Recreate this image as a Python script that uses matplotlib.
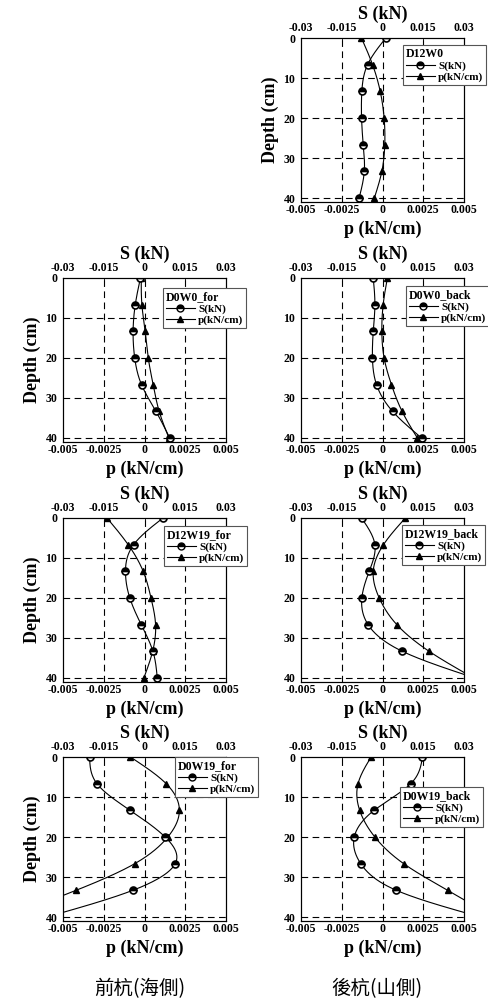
import numpy as np
import matplotlib
matplotlib.use("Agg")
import matplotlib.pyplot as plt

plt.rcParams['font.family'] = ['Liberation Serif', 'DejaVu Serif']
plt.rcParams['font.weight'] = 'bold'
plt.rcParams['axes.labelweight'] = 'bold'

# depth of the gauges (cm)
depth = [0, 6.67, 13.33, 20, 26.67, 33.33, 40]

# panel names
names = ['D12W0', 'D0W0_for', 'D0W0_back', 'D12W19_for', 'D12W19_back',
         'D0W19_for', 'D0W19_back']

# S (kN)
S_D12W0 = [0.0012, -0.0055, -0.0076, -0.0077, -0.0071, -0.0067, -0.0086]
S_D0W0_for = [-0.0015, -0.0034, -0.0042, -0.0036, -0.0011, 0.0042, 0.0093]
S_D0W0_back = [-0.0034, -0.0028, -0.0034, -0.0037, -0.0022, 0.0037, 0.0144]
S_D12W19_for = [0.0068, -0.0040, -0.0070, -0.0054, -0.0012, 0.0031, 0.0047]
S_D12W19_back = [-0.0077, -0.0028, -0.0049, -0.0076, -0.0053, 0.0073, 0.034]
S_D0W19_for = [-0.0202, -0.0175, -0.0053, 0.0076, 0.0113, -0.0043, -0.036]
S_D0W19_back = [0.0147, 0.0104, -0.0031, -0.0104, -0.0080, 0.0051, 0.036]

# p (kN/cm)
p_D12W0 = [-0.00129, -0.00061, -0.00014, 0.0001, 0.00014, -0.00004, -0.0005]
p_D0W0_for = [-0.0002, -0.00016, 0.00004, 0.00023, 0.00053, 0.0009, 0.0015]
p_D0W0_back = [0.0003, 0.00004, -0.00004, 0.0001, 0.00055, 0.0012, 0.00214]
p_D12W19_for = [-0.0023, -0.0010, -0.00008, 0.0004, 0.00068, 0.0005, -0.00004]
p_D12W19_back = [0.0014, 0.00006, -0.00057, -0.0002, 0.00088, 0.00286, 0.0056]
p_D0W19_for = [-0.00086, 0.00133, 0.00214, 0.00143, -0.0006, -0.0042, -0.0085]
p_D0W19_back = [-0.0007, -0.0015, -0.0014, -0.00047, 0.0013, 0.0040, 0.0068]

S_all = [S_D12W0, S_D0W0_for, S_D0W0_back, S_D12W19_for, S_D12W19_back,
         S_D0W19_for, S_D0W19_back]
p_all = [p_D12W0, p_D0W0_for, p_D0W0_back, p_D12W19_for, p_D12W19_back,
         p_D0W19_for, p_D0W19_back]

p_ticks = [-0.005, -0.0025, 0, 0.0025, 0.005]
p_ticklabels = ['-0.005', '-0.0025', '0', '0.0025', '0.005']
S_ticks = [-0.03, -0.015, 0, 0.015, 0.03]
S_ticklabels = ['-0.03', '-0.015', '0', '0.015', '0.03']
depth_ticks = [0, 10, 20, 30, 40]

W, H = 488, 1005
# axes boxes in pixels: left, top, right, bottom
boxes = [(301, 38, 464, 202), (63, 278, 226, 442), (301, 278, 464, 442),
         (63, 518, 226, 682), (301, 518, 464, 682), (63, 757, 226, 921),
         (301, 757, 464, 921)]
# legend upper-left corner in pixels
leg_pos = [(403, 45), (163, 288), (406, 286), (164, 526), (402, 525),
           (175, 757), (400, 787)]
show_depth = [True, True, False, True, False, True, False]


def smooth(x, y, xs):
    # natural cubic spline of y(x)
    x = np.asarray(x, float)
    y = np.asarray(y, float)
    n = len(x)
    h = np.diff(x)
    A = np.zeros((n, n))
    r = np.zeros(n)
    A[0, 0] = A[-1, -1] = 1
    for i in range(1, n - 1):
        A[i, i - 1] = h[i - 1]
        A[i, i] = 2 * (h[i - 1] + h[i])
        A[i, i + 1] = h[i]
        r[i] = 3 * ((y[i + 1] - y[i]) / h[i] - (y[i] - y[i - 1]) / h[i - 1])
    c = np.linalg.solve(A, r)
    b = (y[1:] - y[:-1]) / h - h * (2 * c[:-1] + c[1:]) / 3
    d = (c[1:] - c[:-1]) / (3 * h)
    idx = np.clip(np.searchsorted(x, xs) - 1, 0, n - 2)
    dx = xs - x[idx]
    return y[idx] + b[idx] * dx + c[idx] * dx ** 2 + d[idx] * dx ** 3


fig = plt.figure(figsize=(W / 100, H / 100), dpi=100)
dd = np.linspace(0, 40, 300)

for k, name in enumerate(names):
    l, t, r, b = boxes[k]
    ax = fig.add_axes([l / W, 1 - b / H, (r - l) / W, (b - t) / H])
    ax2 = ax.twiny()

    ax.plot(smooth(depth, p_all[k], dd), dd, color='black', lw=0.8)
    ax.plot(p_all[k], depth, '^', color='black', ms=5, ls='None')
    ax2.plot(smooth(depth, S_all[k], dd), dd, color='black', lw=0.8)
    ax2.plot(S_all[k], depth, 'o', ms=5, mfc='black', mec='black',
             fillstyle='top', markerfacecoloralt='white', mew=1.2, ls='None')

    ax.set_xlim(-0.005, 0.005)
    ax2.set_xlim(-0.03, 0.03)
    ax.set_ylim(41, 0)
    ax.set_xticks(p_ticks)
    ax.set_xticklabels(p_ticklabels, fontweight='bold')
    ax2.set_xticks(S_ticks)
    ax2.set_xticklabels(S_ticklabels, fontweight='bold')
    ax.set_yticks(depth_ticks)
    ax.set_yticklabels([str(v) for v in depth_ticks], fontweight='bold')
    ax.tick_params(axis='x', labelsize=8.5, direction='in', length=2, width=0.6, pad=1.5)
    ax.tick_params(axis='y', labelsize=8.5, direction='in', length=2, width=0.6, pad=4)
    ax2.tick_params(axis='x', labelsize=8.5, direction='in', length=2, width=0.6, pad=3)
    for a in (ax, ax2):
        for s in a.spines.values():
            s.set_linewidth(0.8)

    for x in [-0.0025, 0, 0.0025]:
        ax.axvline(x, color='black', lw=0.8, ls=(0, (6, 4)), zorder=0)
    for y in [10, 20, 30, 40]:
        ax.axhline(y, color='black', lw=0.8, ls=(0, (6, 4)), zorder=0)

    ax.set_xlabel('p (kN/cm)', fontsize=13, fontweight='bold', labelpad=3)
    ax2.set_xlabel('S (kN)', fontsize=13, fontweight='bold', labelpad=2)
    if show_depth[k]:
        ax.set_ylabel('Depth (cm)', fontsize=13, fontweight='bold', labelpad=3)

    h1 = plt.Line2D([], [], color='black', lw=0.8, marker='o', ms=5,
                    mfc='black', fillstyle='top', markerfacecoloralt='white')
    h2 = plt.Line2D([], [], color='black', lw=0.8, marker='^', ms=5)
    lx, ly = leg_pos[k]
    leg = ax2.legend([h1, h2], ['S(kN)', 'p(kN/cm)'], title=name,
                     loc='upper left', bbox_to_anchor=(lx / W, 1 - ly / H),
                     bbox_transform=fig.transFigure,
                     prop={'size': 8, 'weight': 'bold'},
                     title_fontproperties={'size': 8.5, 'weight': 'bold'},
                     alignment='left', fancybox=False,
                     framealpha=1, edgecolor='#555555', borderpad=0.25,
                     labelspacing=0.1, handlelength=2.6, handletextpad=0.3,
                     borderaxespad=0)
    leg.get_frame().set_linewidth(0.8)

cjk = ['Noto Sans CJK TC', 'DejaVu Sans']
fig.text(140 / W, 1 - 989 / H, '前杭(海側)', family=cjk, fontsize=14,
         fontweight='normal', ha='center', va='center')
fig.text(377 / W, 1 - 989 / H, '後杭(山側)', family=cjk, fontsize=14,
         fontweight='normal', ha='center', va='center')

fig.savefig('out.png', dpi=100)
